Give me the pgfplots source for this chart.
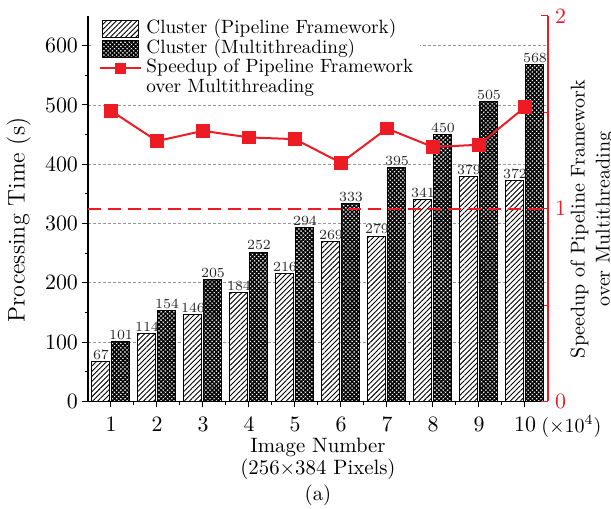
\documentclass[border=0pt]{standalone}
\usepackage{pgfplots}
\pgfplotsset{compat=1.18}
\usetikzlibrary{patterns,patterns.meta}

\definecolor{spdred}{RGB}{237,28,36}
\definecolor{gridgray}{RGB}{150,150,150}

\tikzset{
  pipebar/.style={draw=black, line width=0.5pt, preaction={fill=white},
    pattern={Lines[angle=45,distance=1.8pt,line width=0.45pt]}},
  multibar/.style={draw=black, line width=0.5pt, preaction={fill=white},
    pattern={Hatch[angle=45,distance=1.5pt,line width=0.75pt]}},
}
\pgfplotsset{
  redlegend/.style={legend image code/.code={%
    \draw[mark repeat=2, mark phase=2, ##1, mark size=2.3pt]
      plot coordinates {(0pt,0pt) (10.25pt,0pt) (20.5pt,0pt)};}},
  pipelegend/.style={legend image code/.code={%
    \draw[pipebar] (1.25pt,-4.3pt) rectangle (19.25pt,4.3pt);}},
  multilegend/.style={legend image code/.code={%
    \draw[multibar] (1.25pt,-4.3pt) rectangle (19.25pt,4.3pt);}},
}

\begin{document}
\begin{tikzpicture}
% processing time (left axis, bars)
\begin{axis}[
  name=main,
  scale only axis, width=230pt, height=192.75pt,
  xmin=0.5, xmax=10.5, ymin=0, ymax=650,
  clip=false,
  axis x line*=bottom, axis y line*=left,
  xtick={1,...,10}, minor x tick num=1,
  ytick={0,100,...,600}, minor y tick num=1,
  tick align=outside,
  major tick length=3pt, minor tick length=1.7pt,
  every tick/.append style={black, line width=0.5pt},
  axis line style={black, line width=0.6pt},
  ymajorgrids,
  major grid style={gridgray, line width=0.4pt, dash pattern=on 1.5pt off 1pt},
  ybar, bar width=9pt,
  nodes near coords,
  every node near coord/.append style={font=\fontsize{6.6}{7}\selectfont, inner sep=0.8pt, text=black!85},
  ticklabel style={font=\fontsize{11}{13}\selectfont},
  xticklabel style={yshift=-1.5pt},
  yticklabel style={xshift=1.5pt},
  xlabel={Image Number\\(256$\times$384 Pixels)},
  xlabel style={align=center, at={(axis description cs:0.5,0)}, anchor=center,
    yshift=-28.7pt, font=\fontsize{10.4}{11}\selectfont},
  ylabel={Processing Time (s)},
  ylabel style={at={(axis description cs:-0.151,0.4708)}, anchor=center,
    font=\fontsize{12}{14}\selectfont},
]
\addplot[pipebar, bar shift=-5pt] coordinates {
  (1,67) (2,114) (3,146) (4,184) (5,216) (6,269) (7,279) (8,341) (9,379) (10,372)};
\addplot[multibar, bar shift=5pt] coordinates {
  (1,101) (2,154) (3,205) (4,252) (5,294) (6,333) (7,395) (8,450) (9,505) (10,568)};
\node[anchor=base west, font=\fontsize{10}{12}\selectfont, inner sep=0pt]
  at (axis description cs:1,0) [xshift=-3.5pt, yshift=-15.3pt] {$(\times10^4)$};
\node[font=\fontsize{10.4}{12}\selectfont]
  at (axis description cs:0.5,0) [yshift=-47pt] {(a)};
\end{axis}

% speedup (right axis, line)
\begin{axis}[
  scale only axis, width=230pt, height=192.75pt,
  xmin=0.5, xmax=10.5, ymin=0, ymax=2,
  axis x line=none, axis y line*=right,
  ytick={0,1,2}, minor y tick num=1,
  tick align=inside,
  major tick length=3.5pt, minor tick length=2pt,
  y axis line style={spdred, line width=0.6pt},
  every y tick/.append style={spdred, line width=0.5pt},
  every minor y tick/.append style={spdred, line width=0.5pt},
  yticklabel style={spdred, font=\fontsize{11}{13}\selectfont},
  ylabel={Speedup of Pipeline Framework\\over Multithreading},
  ylabel style={align=center, at={(axis description cs:1.0957,0.473)}, anchor=center,
    font=\fontsize{10}{12.5}\selectfont},
  legend style={at={(axis description cs:0,1)}, anchor=north west,
    xshift=2.3pt, yshift=-0.5pt, draw=none, fill=white,
    inner xsep=3pt, inner ysep=1pt,
    font=\fontsize{9.6}{10}\selectfont,
    row sep=0pt, column sep=2pt,
    nodes={inner sep=0.2pt, text height=7pt, text depth=2.4pt}},
  legend cell align=left,
]
\addlegendimage{pipelegend}
\addlegendentry{Cluster (Pipeline Framework)}
\addlegendimage{multilegend}
\addlegendentry{Cluster (Multithreading)}
\addplot[spdred, line width=1pt, mark=square*, mark size=2.9pt, mark options={solid}, redlegend]
  coordinates {
  (1,1.508) (2,1.351) (3,1.404) (4,1.370) (5,1.361)
  (6,1.238) (7,1.416) (8,1.320) (9,1.332) (10,1.527)};
\addlegendentry{Speedup of Pipeline Framework}
\addlegendimage{empty legend}
\addlegendentry{over Multithreading}
\addplot[spdred, line width=1pt, dash pattern=on 6.5pt off 3.5pt, forget plot]
  coordinates {(0.5,1) (10.5,1)};
\end{axis}

\pgfresetboundingbox
\path[use as bounding box] ([shift={(-44pt,-53.75pt)}]main.south west)
  rectangle ([shift={(31.5pt,8pt)}]main.north east);
\end{tikzpicture}
\end{document}
